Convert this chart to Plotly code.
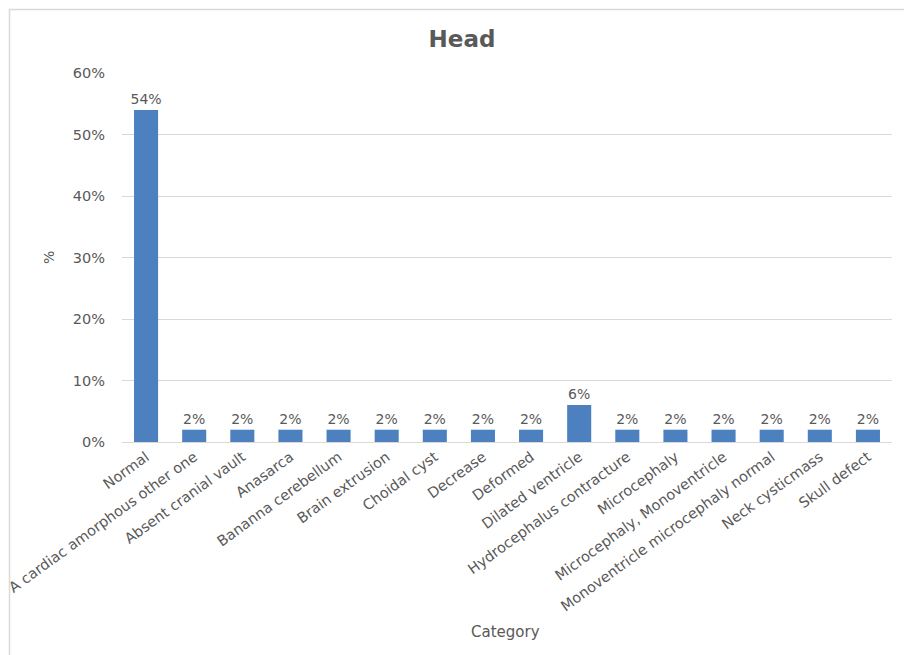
import plotly.graph_objects as go

categories = ["Normal", "A cardiac amorphous other one", "Absent cranial vault", "Anasarca",
              "Bananna cerebellum", "Brain extrusion", "Choidal cyst", "Decrease", "Deformed",
              "Dilated ventricle", "Hydrocephalus contracture", "Microcephaly",
              "Microcephaly, Monoventricle", "Monoventricle microcephaly normal",
              "Neck cysticmass", "Skull defect"]
values = [54, 2, 2, 2, 2, 2, 2, 2, 2, 6, 2, 2, 2, 2, 2, 2]
y_ticks = [0, 10, 20, 30, 40, 50, 60]

FONT = "DejaVu Sans"
GREY = "#595959"

fig = go.Figure()
fig.add_trace(go.Bar(
    x=categories, y=values,
    marker=dict(color="#4d80bf", line=dict(width=0)),
    text=[f"{v}%" for v in values],
    textposition="outside",
    constraintext="none",
    textfont=dict(family=FONT, size=14, color=GREY),
    cliponaxis=False,
))

W, H = 904, 655
L, R, T, B = 122, 12, 73, 213
pw = W - L - R
ph = H - T - B

fig.update_layout(
    width=W, height=H,
    margin=dict(l=L, r=R, t=T, b=B, autoexpand=False),
    paper_bgcolor="white", plot_bgcolor="white",
    bargap=0.5,
    showlegend=False,
    uniformtext=dict(mode=False),
    title=dict(text="<b>Head</b>", x=(462 - L) / pw, xref="paper", y=1 - 39 / H, yanchor="middle",
               font=dict(family=FONT, size=23, color=GREY)),
    font=dict(family=FONT, color=GREY),
    xaxis=dict(
        tickangle=-36, tickfont=dict(family=FONT, size=14.5, color=GREY),
        showline=True, linecolor="#d9d9d9", linewidth=1, ticks="", automargin=False,
        showgrid=False,
    ),
    yaxis=dict(
        range=[0, 60], tickvals=y_ticks, ticktext=[f"{v}%" for v in y_ticks],
        tickfont=dict(family=FONT, size=14.5, color=GREY),
        showgrid=True, gridcolor="#d9d9d9", gridwidth=1, zeroline=False,
        showline=False, ticks="", ticklen=0, automargin=False,
        ticklabelstandoff=16,
    ),
    annotations=[
        dict(text="Category", xref="paper", yref="paper",
             x=(505 - L) / pw, y=-(632 - (T + ph)) / ph, showarrow=False,
             xanchor="center", yanchor="middle",
             font=dict(family=FONT, size=15, color=GREY)),
        dict(text="%", xref="paper", yref="paper",
             x=-(L - 49) / pw, y=(T + ph - 258) / ph, showarrow=False, textangle=-90,
             xanchor="center", yanchor="middle",
             font=dict(family=FONT, size=14, color=GREY)),
    ],
    shapes=[
        dict(type="rect", xref="paper", yref="paper",
             x0=-(L - 9.5) / pw, x1=(W + 20 - L) / pw,
             y0=-(H + 20 - T - ph) / ph, y1=(T + ph - 9.5) / ph,
             line=dict(color="#d9d9d9", width=1.5), fillcolor="rgba(0,0,0,0)", layer="below"),
    ],
)

fig.write_html("out.html")
